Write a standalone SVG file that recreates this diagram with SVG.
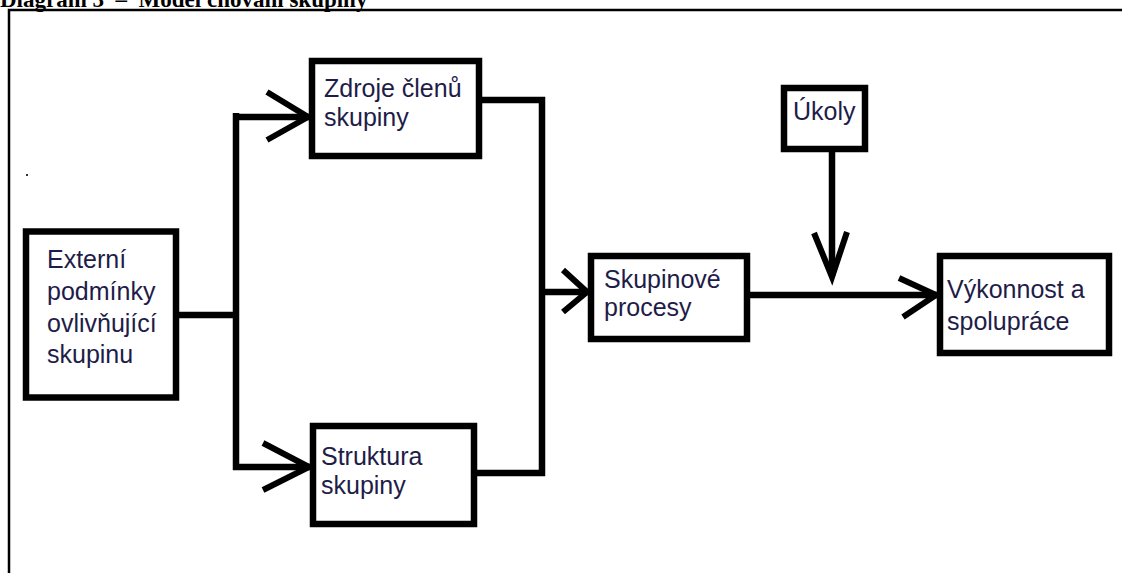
<svg xmlns="http://www.w3.org/2000/svg" width="1122" height="573" viewBox="0 0 1122 573">
  <style>
    .box { fill: #ffffff; stroke: #000000; stroke-width: 6.5; }
    .wire { fill: none; stroke: #000000; stroke-width: 6.5; stroke-linejoin: miter; }
    .head { fill: none; stroke: #000000; stroke-width: 6; stroke-linejoin: miter; }
    .lbl { font-family: "Liberation Sans", Arial, sans-serif; font-size: 25px; fill: #1e1c48; }
    .title { font-family: "Liberation Serif", "Times New Roman", serif; font-size: 23px; font-weight: bold; fill: #000000; }
  </style>

  <rect width="1122" height="573" fill="#ffffff"/>

  <!-- caption, running off the top edge -->
  <text class="title" x="0" y="6.5" xml:space="preserve">Diagram 3  –  Model chování skupiny</text>

  <!-- frame -->
  <path d="M9,573 V10 H1122" fill="none" stroke="#000000" stroke-width="2.5"/>

  <!-- stray dot -->
  <rect x="26" y="174" width="2" height="2" fill="#333333"/>

  <g id="connectors">
    <!-- Externí -> split -->
    <path class="wire" d="M179,315 H236"/>
    <path class="wire" d="M236,113 V470"/>
    <!-- to Zdroje -->
    <path class="wire" d="M233,117 H309"/>
    <polyline class="head" points="267,92 308,117 267,140"/>
    <!-- to Struktura -->
    <path class="wire" d="M233,467 H310"/>
    <polyline class="head" points="263,443 309,467 263,490"/>
    <!-- merge into Skupinové -->
    <path class="wire" d="M482,100 H542 V473 H477"/>
    <path class="wire" d="M542,292 H588"/>
    <polyline class="head" points="563,270 587,292 563,312"/>
    <!-- Skupinové -> Výkonnost -->
    <path class="wire" d="M750,295 H937"/>
    <polyline class="head" points="899,278 936,295 903,317"/>
    <!-- Úkoly down -->
    <path class="wire" d="M832,152 V276"/>
    <polyline class="head" points="814,233 832,277 847,232"/>
  </g>

  <g id="externi">
    <rect class="box" x="26" y="231.5" width="150" height="166"/>
    <text class="lbl" x="47" y="268">Externí</text>
    <text class="lbl" x="47" y="300">podmínky</text>
    <text class="lbl" x="47" y="332">ovlivňující</text>
    <text class="lbl" x="47" y="363">skupinu</text>
  </g>

  <g id="zdroje">
    <rect class="box" x="312" y="61" width="167" height="95"/>
    <text class="lbl" x="324" y="97">Zdroje členů</text>
    <text class="lbl" x="324" y="126">skupiny</text>
  </g>

  <g id="struktura">
    <rect class="box" x="313" y="426" width="161" height="98"/>
    <text class="lbl" x="321" y="465">Struktura</text>
    <text class="lbl" x="321" y="494">skupiny</text>
  </g>

  <g id="procesy">
    <rect class="box" x="591" y="256" width="156" height="83"/>
    <text class="lbl" x="604" y="288">Skupinové</text>
    <text class="lbl" x="604" y="316">procesy</text>
  </g>

  <g id="ukoly">
    <rect class="box" x="784" y="88" width="81" height="61"/>
    <text class="lbl" x="793" y="120">Úkoly</text>
  </g>

  <g id="vykonnost">
    <rect class="box" x="940" y="256" width="169" height="97"/>
    <text class="lbl" x="947" y="298">Výkonnost a</text>
    <text class="lbl" x="947" y="330">spolupráce</text>
  </g>
</svg>
